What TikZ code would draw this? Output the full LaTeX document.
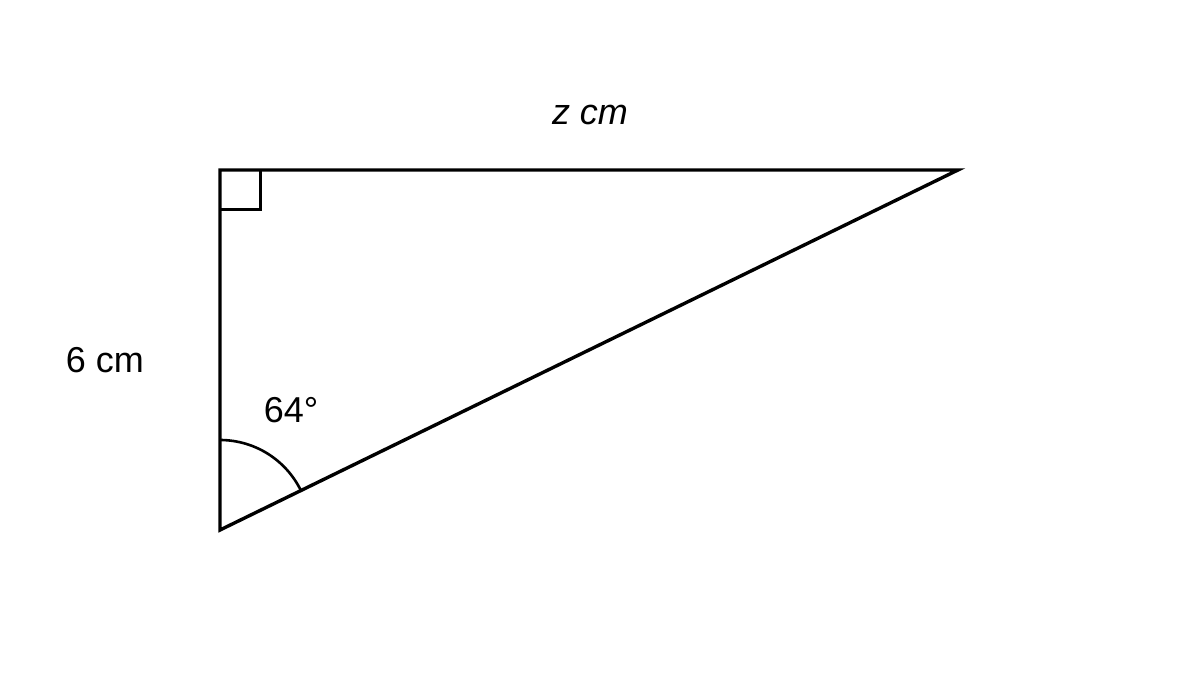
\documentclass[tikz,border=0pt]{standalone}
\usepackage{fontspec}
\setmainfont{Liberation Sans}
\begin{document}
\begin{tikzpicture}[x=1pt,y=-1pt,
  edge/.style={line width=3.4pt,line join=miter},
  lbl/.style={font=\fontsize{36}{42}\selectfont,inner sep=0pt}]
\useasboundingbox (0,0) rectangle (1200,700);
\coordinate (A) at (220,170);
\coordinate (B) at (958,170);
\coordinate (C) at (220,530);
\draw[edge] (A) -- (B) -- (C) -- cycle;
\draw[line width=3pt] (220,210) -- (260,210) -- (260,170);
\draw[line width=2.6pt] (220,440) arc[start angle=-90,end angle=-26,radius=90];
\node[lbl] (z) at (590,115) {\textit{z cm}};
\node[lbl] (six) at (105,360) {6 cm};
\node[lbl] (ang) at (291,410) {64°};
\end{tikzpicture}
\end{document}
